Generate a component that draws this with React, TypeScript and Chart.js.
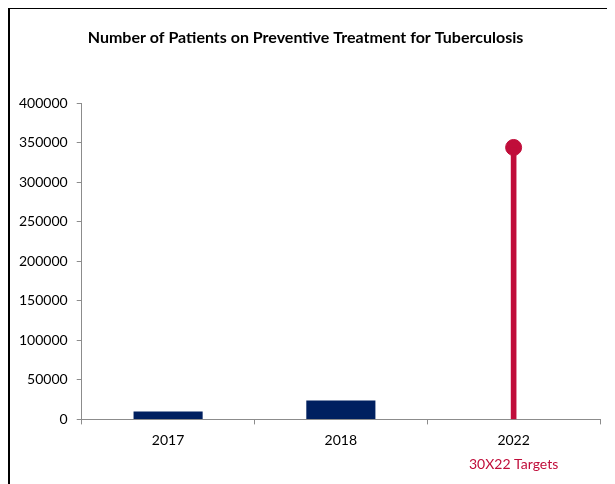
import React, { useEffect, useRef } from "react";
import { Chart, registerables } from "chart.js";

Chart.register(...registerables);

const categories = ["2017", "2018", "2022"];
const targetLabels = ["", "", "30X22 Targets"];
const actualValues = [10000, 24000, null];
const targetValues = [null, null, 344000];
const yTicksMax = 400000;
const yStep = 50000;

const NAVY = "#002060";
const RED = "#C00D3A";
const AXIS = "#8c8c8c";
const FONT = "Lato, 'Open Sans', sans-serif";

export default function App() {
  const ref = useRef<HTMLCanvasElement | null>(null);
  useEffect(() => {
    if (!ref.current) return;
    const chart = new Chart(ref.current, {
      type: "bar",
      data: {
        labels: categories,
        datasets: [
          {
            type: "bar",
            label: "Patients",
            data: actualValues as any,
            backgroundColor: NAVY,
            barPercentage: 0.4,
            categoryPercentage: 1,
            grouped: false,
          } as any,
          {
            type: "bar",
            label: "Target",
            data: targetValues as any,
            backgroundColor: RED,
            barThickness: 5,
            grouped: false,
          } as any,
          {
            type: "line",
            label: "Target point",
            data: targetValues as any,
            showLine: false,
            pointRadius: 8,
            pointHoverRadius: 8,
            pointBackgroundColor: RED,
            pointBorderColor: RED,
            borderColor: RED,
          } as any,
        ],
      },
      options: {
        animation: false,
        responsive: false,
        devicePixelRatio: 1,
        layout: { padding: { left: 0, right: 8, top: 0, bottom: 17 } },
        plugins: {
          legend: { display: false },
          tooltip: { enabled: false },
          title: {
            display: true,
            text: "Number of Patients on Preventive Treatment for Tuberculosis",
            color: "#000",
            font: { family: FONT, size: 16, weight: "bold" },
            padding: { top: 19, bottom: 56 },
          },
        },
        scales: {
          x: {
            type: "category",
            weight: 0,
            offset: true,
            grid: {
              display: true,
              offset: true,
              drawOnChartArea: false,
              drawTicks: true,
              tickLength: 5,
              color: AXIS,
            },
            border: { display: true, color: AXIS, width: 1 },
            ticks: { color: "#000", font: { family: FONT, size: 14 }, padding: 8 },
          },
          x2: {
            type: "category",
            position: "bottom",
            weight: 1,
            labels: targetLabels,
            offset: true,
            grid: { display: false, drawTicks: false },
            border: { display: false },
            ticks: { color: RED, font: { family: FONT, size: 14 }, padding: -1 },
          },
          y: {
            min: 0,
            max: yTicksMax,
            grid: {
              display: true,
              drawOnChartArea: false,
              drawTicks: true,
              tickLength: 5,
              color: AXIS,
            },
            border: { display: true, color: AXIS, width: 1 },
            ticks: {
              stepSize: yStep,
              color: "#000",
              font: { family: FONT, size: 14 },
              padding: 9,
              callback: (v: any) => String(v),
            },
          },
        },
      } as any,
    });
    return () => chart.destroy();
  }, []);

  return (
    <div
      style={{
        width: 599,
        height: 480,
        borderTop: "2px solid #000",
        borderLeft: "2px solid #000",
        borderRight: "2px solid #000",
        marginTop: -1,
        background: "#fff",
      }}
    >
      <canvas ref={ref} width={599} height={480} style={{ display: "block" }} />
    </div>
  );
}
